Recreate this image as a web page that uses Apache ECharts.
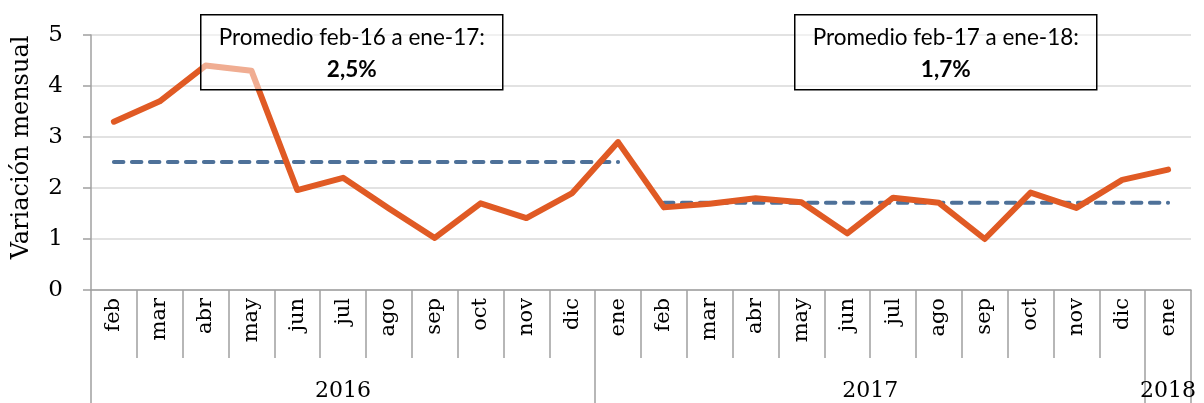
<!DOCTYPE html>
<html><head><meta charset="utf-8">
<script src="https://cdn.jsdelivr.net/npm/echarts@6/dist/echarts.min.js"></script>
<style>html,body{margin:0;padding:0;background:#fff}#c{width:1204px;height:403px}</style>
</head><body><div id="c"></div>
<script>
const months = ['feb','mar','abr','may','jun','jul','ago','sep','oct','nov','dic','ene','feb','mar','abr','may','jun','jul','ago','sep','oct','nov','dic','ene'];
const values = [3.3,3.7,4.4,4.3,1.96,2.2,1.6,1.02,1.7,1.41,1.9,2.9,1.62,1.69,1.8,1.72,1.11,1.81,1.71,1.0,1.91,1.61,2.16,2.36];
const years = ['2016','2017','2018'];
const yearStart = [0,11,23];      // first month index of each year
const yearEnd = [11,23,24];       // end boundary
const avgValues = [2.51, 1.71];
const avgStart = [0, 12];
const avgEnd = [11, 23];
const avgTitles = ['Promedio feb-16 a ene-17:', 'Promedio feb-17 a ene-18:'];
const avgLabels = ['2,5%', '1,7%'];

const avgSeries = avgValues.map((v,k)=>({
  type:'line', z:2, silent:true, showSymbol:false, symbol:'none',
  data: months.map((m,i)=> (i>=avgStart[k] && i<=avgEnd[k]) ? v : null),
  lineStyle:{color:'#4e7199', width:4, type:[9.5,8.5], cap:'round'}
}));

const yearCenters = years.map((y,k)=> (yearStart[k]+yearEnd[k])/2);
const serif = 'DejaVu Serif';
const axisGray = '#a0a0a0';

const chart = echarts.init(document.getElementById('c'));
const boxLeft = [200, 794];
chart.setOption({
  animation:false,
  grid:{left:91, right:13, top:35, bottom:113, containLabel:false},
  xAxis:[{
    type:'category', data:months, boundaryGap:true,
    axisLine:{lineStyle:{color:axisGray, width:1.5}},
    axisTick:{show:true, interval:0, length:68, lineStyle:{color:axisGray, width:1.5}},
    axisLabel:{interval:0, rotate:90, margin:8, color:'#000', fontFamily:serif, fontSize:21}
  },{
    type:'value', min:0, max:24, position:'bottom', offset:68,
    axisLine:{show:false}, splitLine:{show:false},
    axisTick:{show:true, customValues:[0,11,23,24], length:45, lineStyle:{color:axisGray, width:1.5}},
    axisLabel:{customValues:yearCenters, margin:22, color:'#000', fontFamily:serif, fontSize:22,
      formatter:(v)=>{const k=yearCenters.indexOf(v); return k>=0?years[k]:'';}}
  }],
  yAxis:{
    type:'value', min:0, max:5, interval:1,
    name:'Variación mensual', nameLocation:'middle', nameGap:57,
    nameTextStyle:{fontFamily:serif, fontSize:24, color:'#000', padding:[0,0,0,30]},
    axisLine:{show:true, lineStyle:{color:axisGray, width:1.5}},
    axisTick:{show:true, length:8, lineStyle:{color:axisGray, width:1.5}},
    axisLabel:{margin:28, color:'#000', fontFamily:serif, fontSize:23},
    splitLine:{lineStyle:{color:'#d9d9d9', width:1.5}}
  },
  series: avgSeries.concat([{
    type:'line', z:3, silent:true, showSymbol:false, symbol:'none', data:values,
    lineStyle:{color:'#e05a24', width:6, join:'round', cap:'round'}
  }]),
  graphic: boxLeft.map((x,k)=>({
    type:'group', left:x, top:14, z:100,
    children:[
      {type:'rect', shape:{x:0,y:0,width:302,height:75}, style:{fill:'rgba(255,255,255,0.5)', stroke:'#000', lineWidth:1.5}, z:100},
      {type:'text', x:151, y:23, z:101, style:{text:avgTitles[k], fontFamily:'Lato', fontSize:22.5, fill:'#000', align:'center', verticalAlign:'middle'}},
      {type:'text', x:151, y:55, z:101, style:{text:avgLabels[k], fontFamily:'Lato', fontWeight:'bold', fontSize:22.5, fill:'#000', align:'center', verticalAlign:'middle'}}
    ]
  }))
});
</script></body></html>
